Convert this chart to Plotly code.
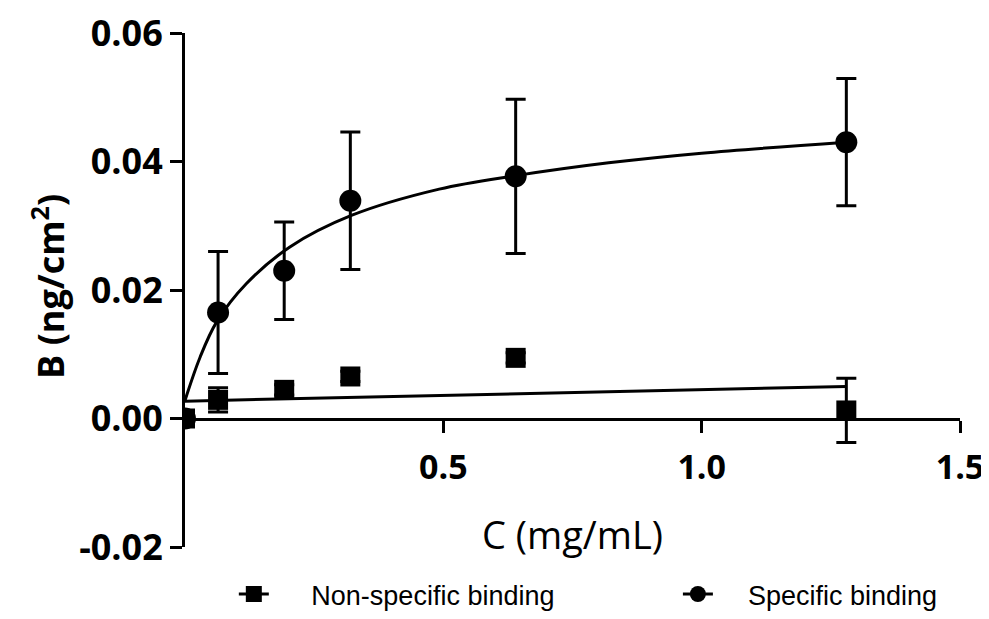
import plotly.graph_objects as go

# ---- data ----
spec_x = [0.0, 0.064, 0.192, 0.32, 0.64, 1.28]
spec_y = [0.0, 0.0165, 0.0230, 0.0339, 0.0377, 0.0430]
spec_err = [0.0, 0.0095, 0.0076, 0.0107, 0.0120, 0.0099]

ns_x = [0.0, 0.064, 0.192, 0.32, 0.64, 1.28]
ns_y = [0.0, 0.0029, 0.00446, 0.00654, 0.00944, 0.00125]
ns_err = [0.0, 0.0019, 0.0008, 0.0008, 0.0008, 0.0050]

# fitted curves as traced on the reference
spec_fit_x = [0.0, 0.029, 0.061, 0.119, 0.203, 0.322, 0.492, 0.640, 0.820, 1.0, 1.28]
spec_fit_y = [0.0028, 0.0095, 0.0150, 0.0210, 0.0267, 0.0316, 0.0357, 0.0378, 0.0398, 0.0413, 0.0430]
ns_fit_x = [0.0, 1.28]
ns_fit_y = [0.0027, 0.0050]

y_ticks = [-0.02, 0.0, 0.02, 0.04, 0.06]
y_ticktext = ["-0.02", "0.00", "0.02", "0.04", "0.06"]
x_ticks = [0.5, 1.0, 1.5]
x_ticktext = ["0.5", "1.0", "1.5"]

names = ["Non-specific binding", "Specific binding"]

BLACK = "black"
fig = go.Figure()

fig.add_trace(go.Scatter(x=ns_fit_x, y=ns_fit_y, mode="lines",
                         line=dict(color=BLACK, width=3), showlegend=False, hoverinfo="skip"))
fig.add_trace(go.Scatter(x=spec_fit_x, y=spec_fit_y, mode="lines",
                         line=dict(color=BLACK, width=3, shape="spline", smoothing=1.0),
                         showlegend=False, hoverinfo="skip"))

fig.add_trace(go.Scatter(x=spec_x, y=spec_y, mode="markers",
                         marker=dict(symbol="circle", size=22, color=BLACK),
                         error_y=dict(type="data", array=spec_err, visible=True,
                                      color=BLACK, thickness=3, width=10),
                         showlegend=False))
fig.add_trace(go.Scatter(x=ns_x, y=ns_y, mode="markers",
                         marker=dict(symbol="square", size=20, color=BLACK),
                         error_y=dict(type="data", array=ns_err, visible=True,
                                      color=BLACK, thickness=3, width=10),
                         showlegend=False))

# legend entries (line + marker), each in its own legend box
fig.add_trace(go.Scatter(x=[None], y=[None], mode="lines+markers",
                         name="&nbsp;" * 5 + names[0],
                         line=dict(color=BLACK, width=3), legend="legend",
                         marker=dict(symbol="square", size=16, color=BLACK)))
fig.add_trace(go.Scatter(x=[None], y=[None], mode="lines+markers",
                         name="&nbsp;" * 4 + names[1],
                         line=dict(color=BLACK, width=3), legend="legend2",
                         marker=dict(symbol="circle", size=16, color=BLACK)))

legend_font = dict(family="Liberation Sans", size=27, color=BLACK)

# the page body adds an 8px margin, so the figure is sized 8px smaller
fig.update_layout(
    width=981, height=611,
    margin=dict(l=177, r=29, t=25, b=72, autoexpand=False),
    paper_bgcolor="white", plot_bgcolor="white",
    showlegend=True,
    legend=dict(orientation="h", x=0.063, xanchor="left", y=-0.140, yanchor="bottom",
                font=legend_font, bgcolor="rgba(0,0,0,0)"),
    legend2=dict(orientation="h", x=0.636, xanchor="left", y=-0.140, yanchor="bottom",
                 font=legend_font, bgcolor="rgba(0,0,0,0)"),
    xaxis=dict(range=[0, 1.5], anchor="free", position=0.25,
               showline=True, linecolor=BLACK, linewidth=3,
               ticks="outside", ticklen=12, tickwidth=3, tickcolor=BLACK,
               tickvals=x_ticks, ticktext=x_ticktext, ticklabelstandoff=6,
               ticklabeloverflow="allow",
               tickfont=dict(family="Open Sans", size=34, color=BLACK, weight="bold"),
               showgrid=False, zeroline=False),
    yaxis=dict(range=[-0.02, 0.06],
               showline=True, linecolor=BLACK, linewidth=3,
               ticks="outside", ticklen=12, tickwidth=3, tickcolor=BLACK,
               tickvals=y_ticks, ticktext=y_ticktext, ticklabelstandoff=0,
               ticklabeloverflow="allow",
               tickfont=dict(family="Open Sans", size=36, color=BLACK, weight="bold"),
               showgrid=False, zeroline=False),
    annotations=[
        dict(text="C (mg/mL)", xref="paper", yref="paper", x=0.5, y=0.025,
             xanchor="center", yanchor="middle", showarrow=False,
             font=dict(family="Open Sans", size=38, color=BLACK)),
        dict(text="B (ng/cm<sup>2</sup>)", xref="paper", yref="paper", x=-0.1755, y=0.508,
             xanchor="center", yanchor="middle", showarrow=False, textangle=-90,
             font=dict(family="Open Sans", size=36, color=BLACK, weight="bold")),
    ],
)

fig.write_html("out.html")
